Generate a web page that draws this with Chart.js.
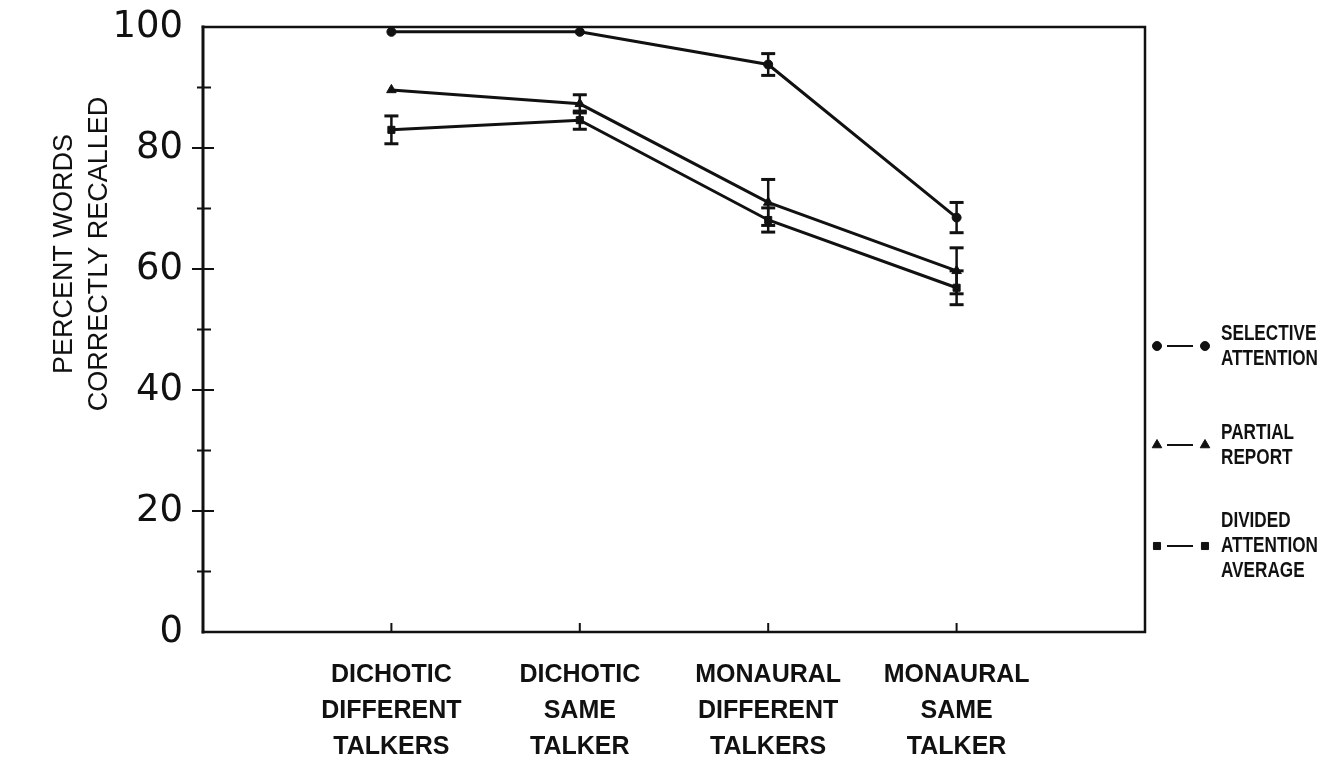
<!DOCTYPE html>
<html>
<head>
<meta charset="utf-8">
<script src="https://cdn.jsdelivr.net/npm/chart.js@4.4.0/dist/chart.umd.min.js"></script>
<style>
  html, body { margin: 0; padding: 0; background: #fff; }
  canvas { display: block; }
</style>
</head>
<body>
<canvas id="recall" width="1337" height="774"></canvas>
<script>
// Listening conditions along the x axis (one label line per entry)
const conditions = [
  ['DICHOTIC', 'DIFFERENT', 'TALKERS'],
  ['DICHOTIC', 'SAME', 'TALKER'],
  ['MONAURAL', 'DIFFERENT', 'TALKERS'],
  ['MONAURAL', 'SAME', 'TALKER']
];
const conditionPositions = [1, 2, 3, 4];

// Percent of words correctly recalled, with error-bar half widths
const selectiveAttention = [99.2, 99.2, 93.8, 68.5];
const selectiveError     = [0, 0, 1.8, 2.5];
const partialReport      = [89.6, 87.3, 71.0, 59.7];
const partialError       = [0, 1.5, 3.8, 3.8];
const dividedAverage     = [83.0, 84.6, 68.1, 56.9];
const dividedError       = [2.3, 1.5, 2.0, 2.8];

const yTickValues = [0, 20, 40, 60, 80, 100];

const INK = '#111';

function seriesPoints(values) {
  return conditionPositions.map((x, i) => ({ x: x, y: values[i] }));
}

// Each error bar is a two-point segment; null breaks the line between bars
function errorPoints(values, errors) {
  const pts = [];
  conditionPositions.forEach((x, i) => {
    if (errors[i] > 0) {
      pts.push({ x: x, y: values[i] - errors[i] });
      pts.push({ x: x, y: values[i] + errors[i] });
      pts.push({ x: x, y: null });
    }
  });
  return pts;
}

function seriesDataset(label, values, style, radius) {
  return {
    label: label,
    data: seriesPoints(values),
    borderColor: INK,
    borderWidth: 3,
    pointStyle: style,
    pointRadius: radius,
    pointBackgroundColor: INK,
    pointBorderColor: INK,
    pointBorderWidth: 1,
    tension: 0
  };
}

function errorDataset(values, errors) {
  return {
    label: '',
    data: errorPoints(values, errors),
    borderColor: INK,
    borderWidth: 2.5,
    pointStyle: 'line',
    pointRadius: 7,
    pointBorderWidth: 3,
    pointBorderColor: INK,
    spanGaps: false,
    tension: 0
  };
}

const legendEntries = [
  { style: 'circle',   radius: 4.5, lines: ['SELECTIVE', 'ATTENTION'],            y: 346 },
  { style: 'triangle', radius: 5.5, lines: ['PARTIAL', 'REPORT'],                 y: 445 },
  { style: 'rect',     radius: 5,   lines: ['DIVIDED', 'ATTENTION', 'AVERAGE'],   y: 546 }
];

// Box frame, ticks crossing the y axis, short inward ticks on the x axis
const framePlugin = {
  id: 'frame',
  afterDatasetsDraw(chart) {
    const { ctx, chartArea: a, scales } = chart;
    ctx.save();
    ctx.strokeStyle = INK;
    ctx.lineCap = 'square';
    ctx.lineWidth = 2.5;
    ctx.beginPath();
    ctx.moveTo(a.left, a.top); ctx.lineTo(a.right, a.top);
    ctx.moveTo(a.right, a.top); ctx.lineTo(a.right, a.bottom);
    ctx.moveTo(a.left, a.bottom); ctx.lineTo(a.right, a.bottom);
    ctx.stroke();
    ctx.lineWidth = 3;
    ctx.beginPath();
    ctx.moveTo(a.left, a.top); ctx.lineTo(a.left, a.bottom);
    ctx.stroke();

    ctx.lineWidth = 2;
    ctx.lineCap = 'butt';
    ctx.beginPath();
    for (let v = 10; v < 100; v += 10) {
      const y = scales.y.getPixelForValue(v);
      const major = v % 20 === 0;
      ctx.moveTo(a.left - (major ? 11 : 6), y);
      ctx.lineTo(a.left + (major ? 11 : 8), y);
    }
    conditionPositions.forEach(p => {
      const x = scales.x.getPixelForValue(p);
      ctx.moveTo(x, a.bottom);
      ctx.lineTo(x, a.bottom - 9);
    });
    ctx.stroke();
    ctx.restore();
  }
};

// Two-line y-axis title
const yTitlePlugin = {
  id: 'yTitle',
  afterDraw(chart) {
    const { ctx } = chart;
    ctx.save();
    ctx.fillStyle = INK;
    ctx.font = '27px "Liberation Sans", Arial, sans-serif';
    ctx.textAlign = 'center';
    ctx.textBaseline = 'middle';
    ctx.translate(0, 254);
    ctx.rotate(-Math.PI / 2);
    ctx.fillText('PERCENT WORDS', 0, 65);
    ctx.fillText('CORRECTLY RECALLED', 0, 100);
    ctx.restore();
  }
};

// Marker — marker legend to the right of the frame, condensed bold labels
const legendPlugin = {
  id: 'sideLegend',
  afterDraw(chart) {
    const { ctx } = chart;
    const drawPoint = Chart.helpers.drawPoint;
    ctx.save();
    legendEntries.forEach(e => {
      const opts = { pointStyle: e.style, radius: e.radius, rotation: 0, borderWidth: 1 };
      ctx.fillStyle = INK;
      ctx.strokeStyle = INK;
      ctx.lineWidth = 1;
      drawPoint(ctx, opts, 1157, e.y);
      drawPoint(ctx, opts, 1205, e.y);
      ctx.lineWidth = 2;
      ctx.beginPath();
      ctx.moveTo(1167, e.y);
      ctx.lineTo(1193, e.y);
      ctx.stroke();
      ctx.font = 'bold 22px "Liberation Sans", Arial, sans-serif';
      ctx.textAlign = 'left';
      ctx.textBaseline = 'middle';
      const step = 25;
      const first = e.y - (e.lines.length - 1) * step / 2;
      e.lines.forEach((t, k) => {
        ctx.save();
        ctx.translate(1221, first + k * step);
        ctx.scale(0.78, 1);
        ctx.fillText(t, 0, 0);
        ctx.restore();
      });
    });
    ctx.restore();
  }
};

new Chart(document.getElementById('recall'), {
  type: 'line',
  data: {
    datasets: [
      seriesDataset('SELECTIVE ATTENTION', selectiveAttention, 'circle', 4.5),
      seriesDataset('PARTIAL REPORT', partialReport, 'triangle', 5.5),
      seriesDataset('DIVIDED ATTENTION AVERAGE', dividedAverage, 'rect', 5),
      errorDataset(selectiveAttention, selectiveError),
      errorDataset(partialReport, partialError),
      errorDataset(dividedAverage, dividedError)
    ]
  },
  options: {
    responsive: false,
    animation: false,
    devicePixelRatio: 1,
    layout: { padding: { top: 27, right: 192, left: 0, bottom: 0 } },
    plugins: {
      legend: { display: false },
      tooltip: { enabled: false }
    },
    scales: {
      x: {
        type: 'linear',
        min: 0,
        max: 5,
        grid: { display: false, drawTicks: false },
        border: { display: false },
        afterFit(scale) {
          scale.height = 142;
          scale.paddingLeft = 0;
          scale.paddingRight = 0;
        },
        afterBuildTicks(scale) {
          scale.ticks = conditionPositions.map(v => ({ value: v }));
        },
        ticks: {
          autoSkip: false,
          maxRotation: 0,
          padding: 25,
          color: INK,
          font: { family: '"Liberation Sans", Arial, sans-serif', size: 25, weight: 'bold', lineHeight: 1.44 },
          callback(value) { return conditions[value - 1] || ''; }
        }
      },
      y: {
        min: 0,
        max: 100,
        grid: { display: false, drawTicks: false },
        border: { display: false },
        afterFit(scale) {
          scale.width = 203;
          scale.paddingTop = 0;
          scale.paddingBottom = 0;
        },
        afterBuildTicks(scale) {
          scale.ticks = yTickValues.map(v => ({ value: v }));
        },
        ticks: {
          padding: 20,
          color: INK,
          font: { family: '"DejaVu Sans", sans-serif', size: 37 }
        }
      }
    }
  },
  plugins: [framePlugin, yTitlePlugin, legendPlugin]
});
</script>
</body>
</html>
